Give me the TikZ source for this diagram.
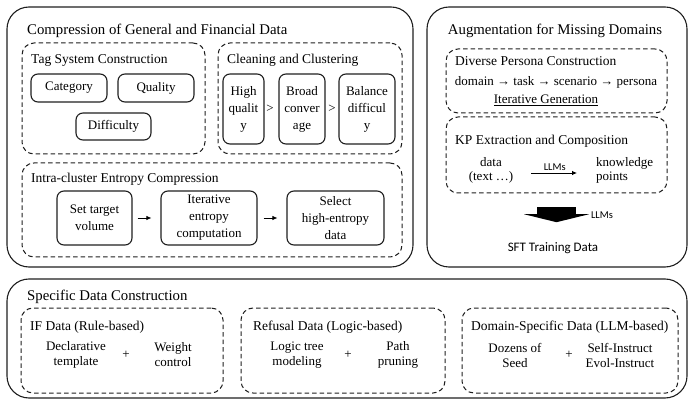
\documentclass[tikz,border=0pt]{standalone}
\usepackage{fontspec}
\setmainfont{Liberation Serif}
\newfontfamily\calibri{Carlito}
\usetikzlibrary{arrows.meta,positioning}
\definecolor{ink}{HTML}{1E1E1E}
\newcommand{\headfont}{\fontsize{14.8}{17}\selectfont}
\newcommand{\subfont}{\fontsize{13.5}{15}\selectfont}
\newcommand{\boxfont}{\fontsize{13}{17}\selectfont}

\begin{document}
\begin{tikzpicture}[
  x=1pt, y=-1pt, >={Latex[length=5pt,width=4.5pt]},
  panel/.style={draw=ink,line width=1.1pt,rounded corners=22pt,inner sep=0pt},
  group/.style={draw=ink,line width=1pt,dash pattern=on 4.5pt off 3pt,rounded corners=12pt,inner sep=0pt},
  tagbox/.style={draw=ink,line width=1.1pt,rounded corners=7pt,align=center,inner sep=1pt,font=\boxfont},
  head/.style={anchor=base west,inner sep=0pt,font=\headfont},
  sub/.style={anchor=base west,inner sep=0pt,font=\subfont},
  txt/.style={align=center,inner sep=2pt,font=\fontsize{13}{15}\selectfont},
  llm/.style={inner sep=1pt,font=\calibri\fontsize{10.5}{12}\selectfont},
  bigarr/.style={line width=39pt,-{Triangle[width=65pt,length=8pt,line width=0pt]}},
  every edge/.style={draw,->,line width=0.8pt}
]
\useasboundingbox (0,0) rectangle (693,403);
% three panels
\node[panel,minimum width=406,minimum height=260] (comp) at (210,137) {};
\node[panel,minimum width=260,minimum height=260] (aug) at (557,137) {};
\node[panel,minimum width=680,minimum height=119] (spec) at (347,338.5) {};
\node[head] (comptitle) at (27,34.5) {Compression of General and Financial Data};
\node[head,anchor=base] (augtitle) at (555,34.5) {Augmentation for Missing Domains};
\node[head] (spectitle) at (27,300) {Specific Data Construction};

% compression of general and financial data
\node[group,minimum width=183,minimum height=111] (tagsys) at (113.5,98.5) {};
\node[group,minimum width=184,minimum height=111] (clean) at (310,98.5) {};
\node[group,minimum width=380,minimum height=94] (intra) at (212,210) {};
\node[sub] (tagtitle) at (31,64) {Tag System Construction};
\node[sub] (cleantitle) at (227,64) {Cleaning and Clustering};
\node[sub] (intratitle) at (31,183) {Intra-cluster Entropy Compression};
\node[tagbox,minimum width=76,minimum height=28] (category) at (69,88) {Category};
\node[tagbox,minimum width=76,minimum height=28] (quality) at (156,88) {Quality};
\node[tagbox,minimum width=75,minimum height=27] (difficulty) at (113.5,126.5) {Difficulty};
\node[tagbox,minimum width=41,minimum height=70] (highq) at (243.5,109) {High\\qualit\\y};
\node[tagbox,minimum width=46,minimum height=70] (broad) at (302,109) {Broad\\conver\\age};
\node[tagbox,minimum width=56,minimum height=70] (balance) at (367,109) {Balance\\difficul\\y};
\node[txt] (gt1) at (270,109) {>};
\node[txt] (gt2) at (332,109) {>};
\node[tagbox,minimum width=75,minimum height=54] (setvol) at (94.5,218) {Set target\\volume};
\node[tagbox,minimum width=96,minimum height=54] (iterent) at (209,218) {Iterative\\entropy\\computation};
\node[tagbox,minimum width=97,minimum height=54] (selent) at (335.5,218) {Select\\high-entropy\\data};
\draw (setvol) edge[shorten <=5pt,shorten >=9pt] (iterent);
\draw (iterent) edge[shorten <=6pt,shorten >=9pt] (selent);

% augmentation for missing domains
\node[group,minimum width=221,minimum height=64] (persona) at (556.5,81) {};
\node[sub] (personatitle) at (455,66) {Diverse Persona Construction};
\node[txt] (chain) at (556,82) {domain → task → scenario → persona};
\node[txt] (itergen) at (546,100) {\underline{Iterative Generation}};
\node[group,minimum width=221,minimum height=76] (kpbox) at (556.5,155) {};
\node[sub] (kptitle) at (455,145) {KP Extraction and Composition};
\node[txt,font=\fontsize{13}{14}\selectfont] (data) at (491,170) {data\\(text …)};
\node[txt,font=\fontsize{13}{14}\selectfont,align=left,anchor=west] (know) at (594,170) {knowledge\\points};
\draw ([yshift=-3pt]data.east) edge[shorten <=16pt,shorten >=17pt] node[llm,above=1pt] (llm1) {LLMs} ([yshift=-3pt]know.west);
\node[llm,font=\calibri\fontsize{13}{15}\selectfont] (sft) at (553,248) {SFT Training Data};
\draw[bigarr,shorten <=14pt,shorten >=19pt] (kpbox.south) -- (kpbox.south |- sft.north);
\node[llm] (llm2) at (602,215) {LLMs};

% specific data construction
\node[group,minimum width=202,minimum height=85] (ifdata) at (122,350.5) {};
\node[group,minimum width=204,minimum height=85] (refusal) at (343,350.5) {};
\node[group,minimum width=216,minimum height=85] (domain) at (570,350.5) {};
\node[sub] (iftitle) at (30,330) {IF Data (Rule-based)};
\node[sub] (reftitle) at (253,330) {Refusal Data (Logic-based)};
\node[sub] (domtitle) at (471,330) {Domain-Specific Data (LLM-based)};
\node[txt] (decl) at (76,355) {Declarative\\template};
\node[txt] (plus1) at (126,355) {+};
\node[txt] (weight) at (173,355) {Weight\\control};
\node[txt] (logic) at (297,355) {Logic tree\\modeling};
\node[txt] (plus2) at (348,355) {+};
\node[txt] (path) at (398,355) {Path\\pruning};
\node[txt] (seed) at (515,355) {Dozens of\\Seed};
\node[txt] (plus3) at (569,355) {+};
\node[txt] (instruct) at (620,355) {Self-Instruct\\Evol-Instruct};
\end{tikzpicture}
\end{document}
